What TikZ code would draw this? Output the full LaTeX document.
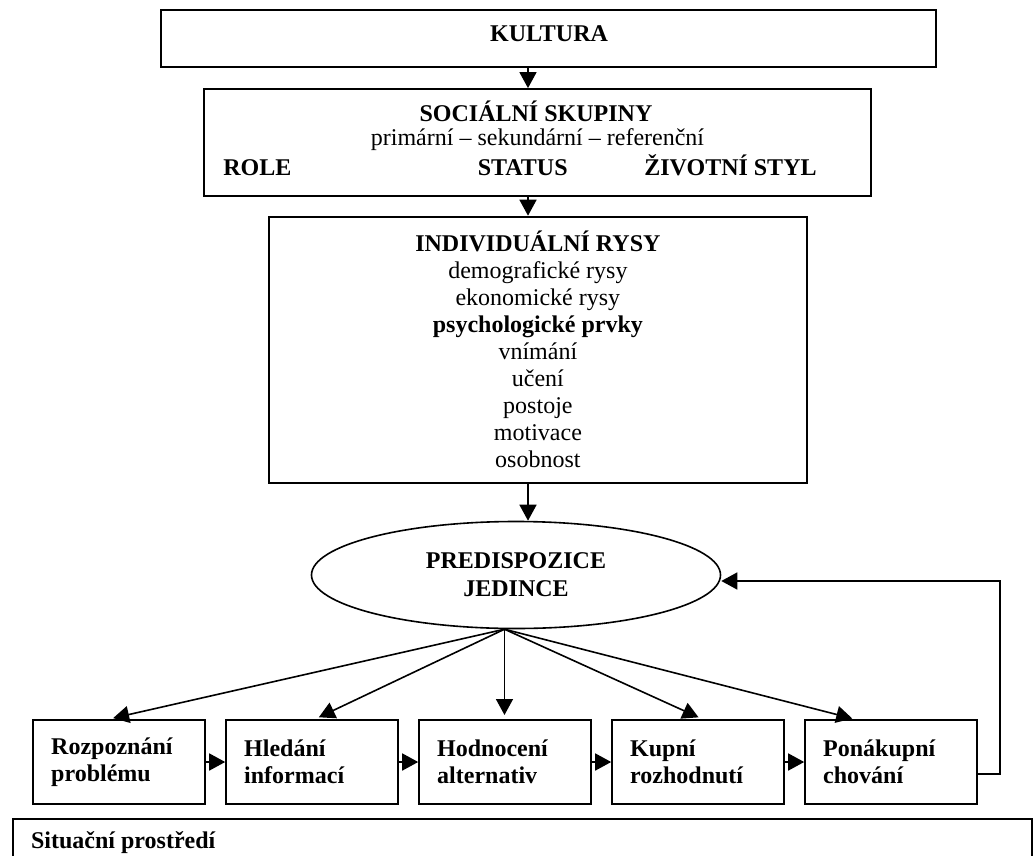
\documentclass[tikz,border=0pt]{standalone}
\usepackage{fontspec}
\setmainfont{Liberation Serif}
\usetikzlibrary{arrows.meta,shapes.geometric}

\begin{document}
\begin{tikzpicture}[x=0.5pt,y=-0.5pt,
        font=\fontsize{12}{13.5}\selectfont,
        blok/.style={draw,line width=1pt,inner sep=0pt},
        krok/.style={blok,minimum width=86pt,minimum height=42pt,text width=68pt,inner xsep=9pt,align=left,font=\fontsize{12}{13.5}\selectfont\bfseries},
        popis/.style={inner sep=0pt},
        sipka/.style={line width=0.8pt,-{Triangle[length=8pt,width=8.5pt]}}]
        \useasboundingbox (0,0) rectangle (1033,856);
        %% Blocks
        \node[blok,minimum width=387.6pt,minimum height=28.2pt] (kult) at (548.3,38.5) {};
        \node[blok,minimum width=333.5pt,minimum height=53.2pt] (soc) at (537.5,142.3) {};
        \node[blok,minimum width=268.9pt,minimum height=133pt,align=center] (indiv) at (537.9,349.7)
            {\bfseries INDIVIDUÁLNÍ RYSY\\demografické rysy\\ekonomické rysy\\\bfseries psychologické prvky\\vnímání\\učení\\postoje\\motivace\\osobnost};
        \node[draw,ellipse,line width=0.8pt,inner sep=0pt,minimum width=204.5pt,minimum height=53.5pt,align=center,font=\fontsize{12}{14}\selectfont\bfseries] (pred) at (516,575) {PREDISPOZICE\\JEDINCE};
        \node[krok] (b1) at (119.2,762) {Rozpoznání\\problému};
        \node[krok] (b2) at (312.2,762) {Hledání\\informací};
        \node[krok] (b3) at (505.2,762) {Hodnocení\\alternativ};
        \node[krok] (b4) at (698.2,762) {Kupní\\rozhodnutí};
        \node[krok] (b5) at (891.2,762) {Ponákupní\\chování};
        \node[blok,anchor=north west,minimum width=509.7pt,minimum height=40pt] (sit) at (11.7,818) {};
        %% Texts
        \node[popis,anchor=base] (kulttxt) at (549,41.7) {\bfseries KULTURA};
        \node[popis,anchor=base] (soctxt) at (536,121.7) {\bfseries SOCIÁLNÍ SKUPINY};
        \node[popis,anchor=base] (typy) at (537.5,145.5) {primární – sekundární – referenční};
        \node[popis,anchor=base west] (role) at (223,176) {\bfseries ROLE};
        \node[popis,anchor=base] (status) at (522.7,176) {\bfseries STATUS};
        \node[popis,anchor=base] (styl) at (730.5,176) {\bfseries ŽIVOTNÍ STYL};
        \node[popis,anchor=base west] (sittxt) at (30.7,848) {\bfseries Situační prostředí};
        %% Arrows
        \coordinate (osa) at (528,0);
        \coordinate (fb) at (1000,581);
        \draw[sipka] (kult.south -| osa) -- (soc.north -| osa);
        \draw[sipka] (soc.south -| osa) -- (indiv.north -| osa);
        \draw[sipka] (indiv.south -| osa) -- (pred.north -| osa);
        \draw[sipka,shorten >=2pt] (pred.258) -- ([xshift=-5pt]b1.north);
        \draw[sipka,shorten >=2pt] (pred.258) -- ([xshift=1.5pt]b2.north);
        \draw[sipka,shorten >=2pt] (pred.258) -- (pred.258 |- b3.north);
        \draw[sipka,shorten >=2pt] (pred.258) -- ([xshift=2pt]b4.north);
        \draw[sipka,shorten >=1pt] (pred.258) -- ([xshift=-18.5pt]b5.north);
        \draw[sipka] (b1) -- (b2);
        \draw[sipka] (b2) -- (b3);
        \draw[sipka] (b3) -- (b4);
        \draw[sipka] (b4) -- (b5);
        \draw[sipka] ([yshift=-6pt]b5.east) -| (fb) -- ([yshift=-3pt]pred.east);
    \end{tikzpicture}
\end{document}
